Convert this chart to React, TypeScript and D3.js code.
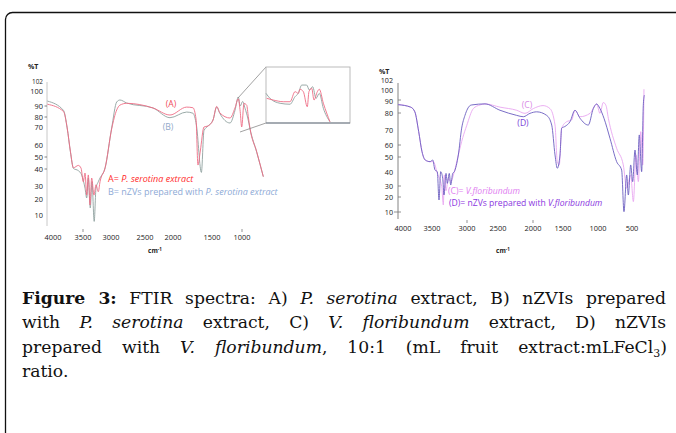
import React, { useLayoutEffect, useRef, useState } from 'react';
import * as d3 from 'd3';

type Pt = [number, number];

// ---- left panel: P. serotina (A) and nZVIs (B), [wavenumber, %T]
const leftA: Pt[] = [
  [4040, 91.2], [3795, 85], [3740, 69.5], [3690, 54.5], [3645, 41], [3570, 43], [3529, 40.6],
  [3495, 32.5], [3464, 37.6], [3434, 23], [3405, 36.5], [3375, 16.3], [3345, 34.7], [3304, 23],
  [3268, 30.7], [3227, 25.6], [3196, 32.5], [3105, 41], [2990, 69], [2916, 86.4], [2868, 90.6],
  [2770, 91.8], [2357, 88.2], [2054, 81.8], [1825, 89], [1744, 88.4], [1705, 78], [1680, 43.3],
  [1650, 55], [1603, 70], [1552, 71], [1483, 77], [1422, 89.6], [1367, 83.6], [1200, 79],
  [1117, 88.2], [1062, 94.8], [1030, 85], [1005, 70], [967, 91.7], [922, 90.6], [895, 80.3],
  [867, 69.3], [755, 54.4], [645, 35.5],
];
const leftB: Pt[] = [
  [4040, 93.3], [3795, 86], [3740, 69.5], [3690, 54], [3645, 40.5], [3570, 39], [3520, 36.5],
  [3464, 28.3], [3434, 20.8], [3405, 34.7], [3370, 14.4], [3340, 32.5], [3300, 6], [3268, 28.3],
  [3227, 32.5], [3196, 34.7], [3105, 41], [2990, 69.5], [2916, 92.7], [2868, 94], [2770, 92],
  [2357, 88.2], [2054, 79.3], [1825, 84.5], [1744, 83.4], [1700, 72], [1636, 38], [1603, 68],
  [1552, 71], [1483, 77], [1422, 89], [1367, 83], [1200, 74], [1117, 86], [1062, 96], [1030, 90],
  [990, 93], [950, 88], [900, 78], [867, 69], [755, 54], [645, 35.5],
];
// zoomed inset of the fingerprint region
const insetA: Pt[] = [
  [1394, 77.6], [1339, 76.4], [1256, 75.2], [1200, 75.2], [1158, 82.4], [1131, 81.2], [1117, 84.1],
  [1089, 82.4], [1056, 71.6], [1042, 82.4], [1019, 84.8], [1000, 76.4], [972, 82.4], [956, 84.1],
  [922, 74.1], [867, 60.9],
];
const insetB: Pt[] = [
  [1400, 81.2], [1367, 77.6], [1283, 74.1], [1200, 73.4], [1158, 78.8], [1131, 81.2], [1102, 87.1],
  [1061, 87.1], [1039, 83.6], [1011, 85.9], [983, 77.6], [956, 81.2], [922, 70.5], [867, 60.9],
];

// ---- right panel: V. floribundum (C) and nZVIs (D)
const rightC: Pt[] = [
  [4030, 86.6], [3833, 84.5], [3768, 80.9], [3708, 68.9], [3656, 54.4], [3606, 48], [3530, 46.9],
  [3481, 46.9], [3424, 39], [3361, 29.4], [3338, 14.7], [3324, 37.9], [3300, 25.7], [3267, 35.5],
  [3233, 33.1], [3181, 40.2], [3124, 51.7], [3060, 65], [3005, 72.5], [2898, 83.4], [2790, 86.2],
  [2710, 87], [2471, 84.5], [2233, 82.1], [2114, 79.8], [1995, 83.4], [1833, 85.7], [1717, 83.4],
  [1633, 72.9], [1595, 46.9], [1562, 44.7], [1522, 71.1], [1447, 74.9], [1376, 75.9], [1329, 82.1],
  [1257, 77.8], [1114, 79.8], [1019, 86.9], [971, 79.8], [922, 88.1], [882, 85.7], [848, 76.9],
  [726, 57.2], [628, 44.7], [578, 27.9], [519, 37.9], [480, 16.9], [441, 51.7], [407, 33.1],
  [371, 68.9], [342, 44.7], [324, 100.5],
];
const rightD: Pt[] = [
  [4030, 86.4], [3833, 84.5], [3768, 80.9], [3708, 68.9], [3656, 54.4], [3606, 48], [3530, 46.9],
  [3490, 48], [3457, 41.3], [3424, 40.2], [3400, 18], [3376, 40.2], [3347, 35.5], [3329, 21.8],
  [3300, 39], [3281, 31.9], [3253, 39], [3233, 30.7], [3204, 39], [3181, 40.2], [3124, 51.7],
  [3076, 71.1], [3029, 78.6], [2952, 85.7], [2924, 86.2], [2710, 87], [2471, 82.1], [2233, 78.6],
  [2138, 77.8], [2043, 79.8], [1938, 80.9], [1772, 78.6], [1688, 72.9], [1633, 51.7], [1595, 42.5],
  [1550, 51.7], [1522, 71.1], [1471, 72.1], [1400, 74.9], [1329, 82.1], [1257, 76.9], [1139, 72.9],
  [1067, 83.4], [1019, 86.9], [971, 83.4], [912, 76.9], [824, 64.5], [726, 46.9], [652, 41.3],
  [618, 10.2], [578, 37.9], [554, 21.8], [519, 44.7], [490, 33.1], [456, 55.8], [422, 37.9],
  [393, 66.7], [358, 40.2], [334, 85.7], [319, 96],
];

const yTicks = [10, 20, 30, 40, 50, 60, 70, 80, 90, 100, 102];
const leftXTicks = [4000, 3500, 3000, 2500, 2000, 1500, 1000];
const rightXTicks = [4000, 3500, 3000, 2500, 2000, 1500, 1000, 500];
const leftMarks = [40, 50, 80, 90];
const rightMarks = [10, 20, 30, 50, 60, 80, 90];

// the scanned axes are not evenly spaced, so piecewise scales
const xL = d3.scaleLinear().domain(leftXTicks).range([50, 83, 111, 145, 173, 212, 242]);
const yL = d3.scaleLinear().domain(yTicks).range([215, 199, 186, 169, 157, 145, 127, 117, 106, 91, 84]);
const xI = d3.scaleLinear().domain([1400, 700]).range([266, 350]);
const yI = d3.scaleLinear().domain([60, 100]).range([123, 67]);
const xR = d3.scaleLinear().domain(rightXTicks).range([400, 432, 467, 498, 533, 563, 598, 632]);
const yR = d3.scaleLinear().domain(yTicks).range([212, 197, 186, 172, 157, 145, 130, 113, 100, 92, 81]);

// small nudges so the crowded top labels don't sit on each other
const rightLabelShift: Record<number, number> = { 90: 1, 100: -1.5, 102: -1 };

const mkLine = (xs: d3.ScaleLinear<number, number>, ys: d3.ScaleLinear<number, number>) =>
  d3.line<Pt>().x(d => xs(d[0])).y(d => ys(d[1])).curve(d3.curveMonotoneX);

const axisFont = "'Open Sans', sans-serif";
const capFont = "'DejaVu Serif', serif";
const capSize = 17.2;

// caption line justified by widening the gaps between words
const JustLine: React.FC<{ x: number; y: number; width: number; children: React.ReactNode }> = ({ x, y, width, children }) => {
  const ref = useRef<SVGTextElement>(null);
  const [ws, setWs] = useState(0);
  useLayoutEffect(() => {
    const el = ref.current;
    if (!el) return;
    const len = el.getComputedTextLength();
    const spaces = (el.textContent || '').split(' ').length - 1;
    if (spaces > 0) setWs(Math.max(0, (width - len) / spaces));
  }, [width]);
  return (
    <text ref={ref} x={x} y={y} wordSpacing={ws} fontFamily={capFont} fontSize={capSize} fill="#111">
      {children}
    </text>
  );
};

export default function App() {
  const lineL = mkLine(xL, yL);
  const lineI = mkLine(xI, yI);
  const lineR = mkLine(xR, yR);

  return (
    <svg width={676} height={433} style={{ position: 'absolute', left: 0, top: 0, background: '#fff' }}>
      <rect x={5.5} y={12.5} width={700} height={450} rx={7} fill="none" stroke="#111" strokeWidth={1.3} />

      {/* ---------- left panel ---------- */}
      <text x={28} y={69} fontFamily={axisFont} fontSize={7} fontWeight="bold" fill="#222">%T</text>
      <line x1={47} x2={47} y1={82} y2={226} stroke="#c8c8c8" />
      {leftMarks.map(v => (
        <line key={v} x1={44.5} x2={47} y1={yL(v)} y2={yL(v)} stroke="#666" strokeWidth={0.8} />
      ))}
      {yTicks.map(v => (
        <text key={v} x={43} y={yL(v) - (v > 100 ? 2 : 0)} dy="0.35em" textAnchor="end" fontFamily={axisFont}
          fontSize={v > 100 ? 6.4 : 7.4} fill="#222">{v}</text>
      ))}
      {leftXTicks.map(v => (
        <text key={v} x={xL(v) + (v === 4000 ? 3 : 0)} y={240} textAnchor="middle" fontFamily={axisFont} fontSize={7.4} fill="#222">{v}</text>
      ))}
      {[3500, 1000].map(v => (
        <line key={v} x1={xL(v)} x2={xL(v)} y1={229} y2={232} stroke="#666" strokeWidth={0.7} />
      ))}
      <text x={155} y={253} textAnchor="middle" fontFamily={axisFont} fontSize={6.5} fontWeight="bold" fill="#222">
        cm<tspan dy={-2.5} fontSize={4.5}>-1</tspan>
      </text>

      <path d={lineL(leftB) || ''} fill="none" stroke="#8fa09e" strokeWidth={0.9} />
      <path d={lineL(leftA) || ''} fill="none" stroke="#ee6c84" strokeWidth={0.9} />

      {/* inset */}
      <line x1={266} y1={67} x2={238} y2={98} stroke="#8a8a8a" strokeWidth={0.8} />
      <line x1={266} y1={123} x2={240} y2={132} stroke="#8a8a8a" strokeWidth={0.8} />
      <rect x={266} y={67} width={84} height={56} fill="#fff" stroke="#b4b4b4" strokeWidth={0.9} />
      <path d={lineI(insetB) || ''} fill="none" stroke="#8fa09e" strokeWidth={0.9} />
      <path d={lineI(insetA) || ''} fill="none" stroke="#ee6c84" strokeWidth={0.9} />
      <line x1={266} x2={350} y1={123} y2={123} stroke="#6f7a88" strokeWidth={1.2} />

      <text x={171} y={107} textAnchor="middle" fontFamily={axisFont} fontSize={8.6} fill="#f04a5a">(A)</text>
      <text x={168} y={130} textAnchor="middle" fontFamily={axisFont} fontSize={8.6} fill="#90a8c8">(B)</text>
      <text x={108} y={182} fontFamily={axisFont} fontSize={9} fill="#ff2a2a">
        A= <tspan fontStyle="italic">P. serotina extract</tspan>
      </text>
      <text x={108} y={194.5} fontFamily={axisFont} fontSize={9} fill="#8eaad6">
        B= nZVs prepared with <tspan fontStyle="italic">P. serotina extract</tspan>
      </text>

      {/* ---------- right panel ---------- */}
      <text x={379} y={74} fontFamily={axisFont} fontSize={7} fontWeight="bold" fill="#222">%T</text>
      <line x1={398} x2={398} y1={83} y2={219} stroke="#777" strokeWidth={0.9} />
      {rightMarks.map(v => (
        <line key={v} x1={v === 10 ? 394 : 398} x2={401} y1={yR(v)} y2={yR(v)} stroke="#777" strokeWidth={0.8} />
      ))}
      {yTicks.map(v => (
        <text key={v} x={393} y={yR(v) + (rightLabelShift[v] || 0)} dy="0.35em" textAnchor="end" fontFamily={axisFont}
          fontSize={7.2} fill="#222">{v}</text>
      ))}
      {rightXTicks.map(v => (
        <text key={v} x={xR(v) + (v === 4000 ? 3 : 0)} y={231} textAnchor="middle" fontFamily={axisFont} fontSize={7.4} fill="#222">{v}</text>
      ))}
      {[3000, 2000].map(v => (
        <line key={v} x1={xR(v)} x2={xR(v)} y1={220} y2={223} stroke="#666" strokeWidth={0.7} />
      ))}
      <text x={503} y={253} textAnchor="middle" fontFamily={axisFont} fontSize={6.5} fontWeight="bold" fill="#222">
        cm<tspan dy={-2.5} fontSize={4.5}>-1</tspan>
      </text>

      <path d={lineR(rightC) || ''} fill="none" stroke="#e9a6f0" strokeWidth={0.9} />
      <path d={lineR(rightD) || ''} fill="none" stroke="#6a5cc0" strokeWidth={0.9} />

      <text x={527} y={108} textAnchor="middle" fontFamily={axisFont} fontSize={8.6} fill="#d98be6">(C)</text>
      <text x={523} y={126} textAnchor="middle" fontFamily={axisFont} fontSize={8.6} fill="#7a3fd8">(D)</text>
      <text x={448} y={194} fontFamily={axisFont} fontSize={8.6} fill="#e07cf0">
        (C)= <tspan fontStyle="italic">V.floribundum</tspan>
      </text>
      <text x={449} y={206} fontFamily={axisFont} fontSize={8.6} fill="#8a36e0">
        (D)= nZVs prepared with <tspan fontStyle="italic">V.floribundum</tspan>
      </text>

      {/* ---------- caption ---------- */}
      <JustLine x={22} y={304} width={644}>
        <tspan fontWeight="bold">Figure 3:</tspan>{' '}FTIR spectra: A){' '}
        <tspan fontStyle="italic">P. serotina</tspan>{' '}extract, B) nZVIs prepared
      </JustLine>
      <JustLine x={22} y={328} width={644}>
        with{' '}<tspan fontStyle="italic">P. serotina</tspan>{' '}extract, C){' '}
        <tspan fontStyle="italic">V. floribundum</tspan>{' '}extract, D) nZVIs
      </JustLine>
      <JustLine x={22} y={353} width={645}>
        prepared with{' '}<tspan fontStyle="italic">V. floribundum</tspan>, 10:1 (mL fruit extract:mLFeCl
        <tspan dy={4} fontSize={11}>3</tspan><tspan dy={-4}>)</tspan>
      </JustLine>
      <text x={22} y={377} fontFamily={capFont} fontSize={capSize} fill="#111">ratio.</text>
    </svg>
  );
}
